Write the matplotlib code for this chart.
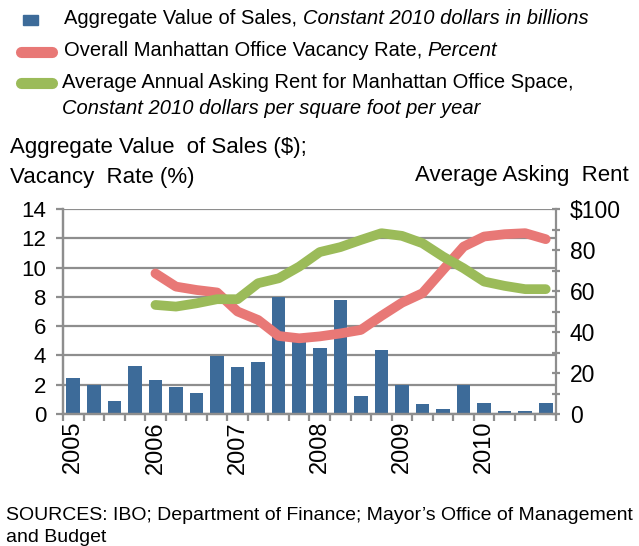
import matplotlib
matplotlib.use("Agg")
import matplotlib.pyplot as plt
from matplotlib.lines import Line2D
from matplotlib.patches import Rectangle
import numpy as np

quarters = [f"{y}Q{q}" for y in range(2005, 2011) for q in range(1, 5)]
sales = [2.45, 2.0, 0.9, 3.3, 2.3, 1.82, 1.46, 3.94, 3.21, 3.53, 8.0, 5.1,
         4.53, 7.77, 1.21, 4.35, 1.98, 0.66, 0.34, 1.98, 0.75, 0.23, 0.23, 0.75]
vacancy = [None, None, None, None,
           9.6, 8.7, 8.47, 8.3, 7.0, 6.42, 5.33, 5.17,
           5.3, 5.5, 5.74, 6.7, 7.6, 8.25, 9.84, 11.43, 12.12, 12.28, 12.35, 11.94]
rent = [None, None, None, None,
        53.2, 52.4, 54.0, 56.0, 56.0, 63.8, 66.2, 71.9,
        79.0, 81.4, 84.9, 88.2, 86.9, 83.3, 76.8, 71.1, 64.6, 62.5, 60.9, 60.9]
year_labels = ["2005", "2006", "2007", "2008", "2009", "2010"]
left_ticks = [0, 2, 4, 6, 8, 10, 12, 14]
right_ticks = [0, 20, 40, 60, 80, 100]
right_labels = ["0", "20", "40", "60", "80", "$100"]

BLUE = "#3D6B99"
RED = "#E87876"
GREEN = "#9BBB59"
GRID = "#8E8E8E"
SANS = ["Liberation Sans", "DejaVu Sans"]

fig = plt.figure(figsize=(6.39, 5.46), dpi=100)
W, H = 639, 546
ax = fig.add_axes([63 / W, 1 - 414 / H, (556 - 63) / W, (414 - 209) / H])
ax2 = ax.twinx()

x = np.arange(len(quarters))
ax.bar(x, sales, width=0.66, color=BLUE, zorder=2)

vx = [i for i, v in enumerate(vacancy) if v is not None]
vy = [v for v in vacancy if v is not None]
rx = [i for i, v in enumerate(rent) if v is not None]
ry = [v for v in rent if v is not None]
ax.plot(vx, vy, color=RED, lw=7, solid_capstyle="round", solid_joinstyle="round", zorder=3)
ax2.plot(rx, ry, color=GREEN, lw=7, solid_capstyle="round", solid_joinstyle="round", zorder=3)

ax.set_xlim(-0.5, len(quarters) - 0.5)
ax.set_ylim(0, 14)
ax2.set_ylim(0, 100)
ax.set_yticks(left_ticks)
ax.set_yticklabels([str(t) for t in left_ticks], fontfamily=SANS, fontsize=16)
ax.grid(axis="y", color=GRID, lw=1.6, zorder=0)
ax.set_axisbelow(True)

ax.set_xticks(np.arange(0, len(quarters), 4))
ax.set_xticklabels(year_labels, rotation=90, fontfamily=SANS, fontsize=17, va="top")
ax.tick_params(axis="x", which="major", length=0, pad=5)
ax.set_xticks(np.arange(-0.5, len(quarters), 1), minor=True)
ax.tick_params(axis="x", which="minor", length=5, width=1.6, color=GRID)
ax.tick_params(axis="y", length=5, width=1.6, color=GRID, pad=7)

ax2.set_yticks(right_ticks)
ax2.set_yticklabels(right_labels, fontfamily=SANS, fontsize=16.5)
ax2.set_yticks(np.arange(10, 100, 20), minor=True)
ax2.tick_params(axis="y", which="both", length=6, width=1.6, color=GRID, direction="inout", pad=7)

for a in (ax, ax2):
    a.spines["top"].set_visible(False)
    for s in ("left", "right", "bottom"):
        a.spines[s].set_color(GRID)
        a.spines[s].set_linewidth(1.6)
ax.spines["right"].set_visible(False)

# Legend (manual)
fig.add_artist(Rectangle((23 / W, 1 - 25 / H), 15 / W, 10 / H, transform=fig.transFigure, color=BLUE))
fig.add_artist(Line2D([21 / W, 52 / W], [1 - 52 / H, 1 - 52 / H], transform=fig.transFigure,
                      color=RED, lw=8, solid_capstyle="round"))
fig.add_artist(Line2D([21 / W, 52 / W], [1 - 83 / H, 1 - 83 / H], transform=fig.transFigure,
                      color=GREEN, lw=8, solid_capstyle="round"))

LFS = 14.5

fig.canvas.draw()
renderer = fig.canvas.get_renderer()


def mixed(xpx, ypx, parts, fs):
    xx = xpx / W
    for txt, style in parts:
        t = fig.text(xx, 1 - ypx / H, txt, fontfamily=SANS, fontstyle=style,
                     fontsize=fs, va="center", ha="left")
        bb = t.get_window_extent(renderer)
        xx = bb.x1 / W


mixed(64, 19, [("Aggregate Value of Sales, ", "normal"), ("Constant 2010 dollars in billions", "italic")], LFS)
mixed(64, 51, [("Overall Manhattan Office Vacancy Rate, ", "normal"), ("Percent", "italic")], LFS)
mixed(62, 82, [("Average Annual Asking Rent for Manhattan Office Space,", "normal")], LFS)
mixed(62, 108, [("Constant 2010 dollars per square foot per year", "italic")], LFS)

fig.text(10 / W, 1 - 148 / H, "Aggregate Value  of Sales ($);", fontfamily=SANS, fontsize=16,
         va="center", ha="left")
fig.text(10 / W, 1 - 177 / H, "Vacancy  Rate (%)", fontfamily=SANS, fontsize=16,
         va="center", ha="left")
fig.text(629 / W, 1 - 175 / H, "Average Asking  Rent", fontfamily=SANS, fontsize=16,
         va="center", ha="right")

fig.text(6 / W, 1 - 515 / H, "SOURCES: IBO; Department of Finance; Mayor\u2019s Office of Management",
         fontfamily=SANS, fontsize=14, va="center", ha="left")
fig.text(6 / W, 1 - 538 / H, "and Budget", fontfamily=SANS, fontsize=14, va="center", ha="left")

fig.savefig("out.png", dpi=100)
